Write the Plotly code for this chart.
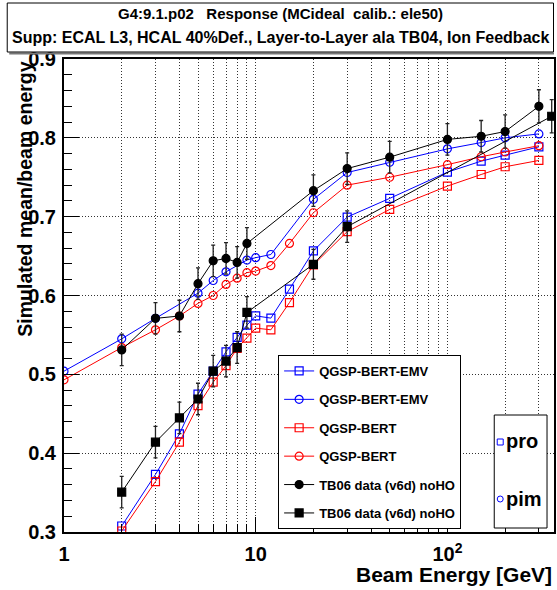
import plotly.graph_objects as go

# ---------------- data ----------------
E_emv_pro = [2, 3, 4, 5, 6, 7, 8, 9, 10, 12, 15, 20, 30, 50, 100, 150, 200, 300]
R_emv_pro = [0.3076, 0.373, 0.4244, 0.475, 0.504, 0.5286, 0.5468, 0.5624, 0.5742, 0.5713,
             0.608, 0.6565, 0.6995, 0.7232, 0.7565, 0.7704, 0.778, 0.7886]

E_emv_pim = [1, 2, 3, 5, 6, 7, 9, 10, 12, 20, 30, 50, 100, 150, 200, 300]
R_emv_pim = [0.504, 0.545, 0.571, 0.603, 0.619, 0.630, 0.645, 0.648, 0.652,
             0.722, 0.756, 0.769, 0.786, 0.794, 0.800, 0.805]

E_bert_pro = [2, 3, 4, 5, 6, 7, 8, 9, 10, 12, 15, 20, 30, 50, 100, 150, 200, 300]
R_bert_pro = [0.3013, 0.364, 0.414, 0.4603, 0.490, 0.511, 0.533, 0.546, 0.5586, 0.5565,
              0.591, 0.6388, 0.681, 0.7092, 0.7388, 0.7535, 0.7633, 0.7713]

E_bert_pim = [1, 2, 3, 4, 5, 6, 7, 8, 9, 10, 12, 15, 20, 30, 50, 100, 150, 200, 300]
R_bert_pim = [0.493, 0.534, 0.5565, 0.574, 0.590, 0.600, 0.614, 0.622, 0.629, 0.631, 0.638,
              0.666, 0.705, 0.740, 0.750, 0.766, 0.776, 0.782, 0.790]

E_data_pim = [2, 3, 4, 5, 6, 7, 8, 9, 20, 30, 50, 100, 150, 200, 300]
R_data_pim = [0.531, 0.571, 0.574, 0.615, 0.644, 0.647, 0.642, 0.666, 0.733, 0.761, 0.7755,
              0.798, 0.802, 0.808, 0.840]
Err_data_pim = [0.020, 0.020, 0.020, 0.020, 0.020, 0.020, 0.020, 0.020, 0.020, 0.020, 0.020,
                0.020, 0.020, 0.021, 0.021]

E_data_pro = [2, 3, 4, 5, 6, 7, 8, 9, 20, 30, 350]
R_data_pro = [0.3506, 0.414, 0.4447, 0.4687, 0.504, 0.5168, 0.534, 0.5785, 0.6396, 0.6873, 0.8274]
Err_data_pro = [0.020, 0.020, 0.020, 0.020, 0.020, 0.020, 0.020, 0.020, 0.019, 0.020, 0.021]

legend_names = ["QGSP-BERT-EMV", "QGSP-BERT-EMV", "QGSP-BERT", "QGSP-BERT",
                "TB06 data (v6d) noHO", "TB06 data (v6d) noHO"]

title_line1 = "G4:9.1.p02&nbsp;&nbsp;&nbsp;Response (MCideal&nbsp;&nbsp;calib.: ele50)"
title_line2 = "Supp: ECAL L3, HCAL 40%Def., Layer-to-Layer ala TB04, Ion Feedback"
x_title = "Beam Energy [GeV]"
y_title = "Simulated mean/beam energy"
x_tickvals = [1, 10, 100]
x_ticktext = ["1", "10", "10<sup>2</sup>"]
x_minor = [2, 3, 4, 5, 6, 7, 8, 9, 20, 30, 40, 50, 60, 70, 80, 90, 200, 300]

# ---------------- layout geometry ----------------
W, H = 557, 590
L, R, T, B = 64, 1, 59, 58
PW, PH = W - L - R, H - T - B
FONT = "Liberation Sans, Arial, Helvetica, sans-serif"


def px2x(px):
    return (px - L) / PW


def py2y(py):
    return (H - B - py) / PH


BLUE = "#0000ff"
RED = "#ff0000"

fig = go.Figure()


def add(E, Rv, name, color, symbol, group, err=None):
    kw = {}
    if err is not None:
        kw["error_y"] = dict(type="data", array=err, visible=True, color="#222222",
                             thickness=1.3, width=2)
    fig.add_trace(go.Scatter(
        x=E, y=Rv, name=name, mode="lines+markers",
        line=dict(color=color, width=1),
        marker=dict(symbol=symbol, size=8, color=color,
                    line=dict(color=color, width=1.2)),
        legendgroup=group, **kw))


add(E_emv_pro, R_emv_pro, legend_names[0], BLUE, "square-open", "g1")
add(E_emv_pim, R_emv_pim, legend_names[1], BLUE, "circle-open", "g2")
add(E_bert_pro, R_bert_pro, legend_names[2], RED, "square-open", "g3")
add(E_bert_pim, R_bert_pim, legend_names[3], RED, "circle-open", "g4")
add(E_data_pim, R_data_pim, legend_names[4], "black", "circle", "g5", err=Err_data_pim)
add(E_data_pro, R_data_pro, legend_names[5], "black", "square", "g6", err=Err_data_pro)

GRIDDASH = "1px,2px"
axis_common = dict(showline=True, linecolor="black", linewidth=2, mirror=True,
                   ticks="inside", tickcolor="black", tickwidth=1, ticklen=15,
                   tickfont=dict(family=FONT, size=20, color="black", weight="bold"),
                   showgrid=True, gridcolor="#333333", gridwidth=1, griddash=GRIDDASH,
                   zeroline=False)

fig.update_xaxes(type="log", range=[0, 2.556], tickmode="array",
                 tickvals=x_tickvals, ticktext=x_ticktext,
                 minor=dict(tickmode="array", tickvals=x_minor, ticks="inside", ticklen=8,
                            tickcolor="black", showgrid=True, gridcolor="#333333",
                            griddash=GRIDDASH, gridwidth=1),
                 ticklabelstandoff=3,
                 **axis_common)
fig.update_yaxes(range=[0.3, 0.9], tickmode="linear", tick0=0.3, dtick=0.1,
                 tickformat=".1f",
                 minor=dict(dtick=0.02, ticks="inside", ticklen=8, tickcolor="black",
                            showgrid=False),
                 ticklabelstandoff=2,
                 **axis_common)

shapes = []
annotations = []

# title box
shapes.append(dict(type="line", xref="paper", yref="paper",
                   x0=px2x(9), x1=px2x(556), y0=py2y(53.5), y1=py2y(53.5),
                   line=dict(color="#777777", width=2)))
shapes.append(dict(type="rect", xref="paper", yref="paper",
                   x0=px2x(7), x1=px2x(555.5), y0=py2y(52), y1=py2y(3),
                   line=dict(color="black", width=1), fillcolor="white"))
annotations.append(dict(text=title_line1, xref="paper", yref="paper",
                        x=px2x(281), y=py2y(13), xanchor="center", yanchor="middle",
                        showarrow=False,
                        font=dict(family=FONT, size=15, color="black", weight="bold")))
annotations.append(dict(text=title_line2, xref="paper", yref="paper",
                        x=px2x(281), y=py2y(38), xanchor="center", yanchor="middle",
                        showarrow=False,
                        font=dict(family=FONT, size=16, color="black", weight="bold")))

# axis titles
annotations.append(dict(text=y_title, xref="paper", yref="paper",
                        x=px2x(24), y=py2y(60), xanchor="center", yanchor="top",
                        textangle=-90, showarrow=False,
                        font=dict(family=FONT, size=19.5, color="black", weight="bold")))
annotations.append(dict(text=x_title, xref="paper", yref="paper",
                        x=px2x(556), y=py2y(574), xanchor="right", yanchor="middle",
                        showarrow=False,
                        font=dict(family=FONT, size=21, color="black", weight="bold")))

# second legend box (pro / pim)
shapes.append(dict(type="rect", xref="paper", yref="paper",
                   x0=px2x(496), x1=px2x(549), y0=py2y(528), y1=py2y(415),
                   line=dict(color="black", width=1), fillcolor="white"))
shapes.append(dict(type="rect", xref="paper", yref="paper",
                   x0=px2x(499), x1=px2x(505), y0=py2y(445), y1=py2y(439),
                   line=dict(color=BLUE, width=1)))
shapes.append(dict(type="circle", xref="paper", yref="paper",
                   x0=px2x(499), x1=px2x(505), y0=py2y(502), y1=py2y(496),
                   line=dict(color=BLUE, width=1)))
annotations.append(dict(text="pro", xref="paper", yref="paper",
                        x=px2x(506), y=py2y(441), xanchor="left", yanchor="middle",
                        showarrow=False,
                        font=dict(family=FONT, size=20, color="black", weight="bold")))
annotations.append(dict(text="pim", xref="paper", yref="paper",
                        x=px2x(506), y=py2y(499), xanchor="left", yanchor="middle",
                        showarrow=False,
                        font=dict(family=FONT, size=20, color="black", weight="bold")))

fig.update_layout(
    width=W, height=H,
    margin=dict(l=L, r=R, t=T, b=B, pad=0),
    paper_bgcolor="white", plot_bgcolor="white",
    font=dict(family=FONT, color="black"),
    showlegend=True,
    legend=dict(x=px2x(279), y=py2y(355), xanchor="left", yanchor="top",
                bgcolor="white", bordercolor="black", borderwidth=1,
                traceorder="grouped", tracegroupgap=8.5,
                font=dict(family=FONT, size=13, color="black", weight="bold")),
    shapes=shapes, annotations=annotations,
)

fig.write_html("out.html", config={"displayModeBar": False},
               post_script="document.body.style.margin='0';")
